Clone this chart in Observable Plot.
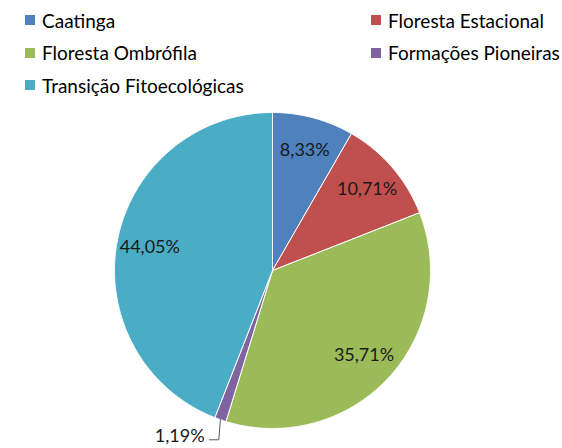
<!DOCTYPE html>
<html>
<head>
<meta charset="utf-8">
<script src="https://cdn.jsdelivr.net/npm/d3@7"></script>
<script src="https://cdn.jsdelivr.net/npm/@observablehq/plot@0.6"></script>
<style>
  html, body { margin: 0; padding: 0; background: #fff; }
  body { width: 562px; height: 448px; overflow: hidden; font-family: Lato, "Open Sans", sans-serif; }
  #legend { position: relative; width: 562px; height: 100px; }
  .item { position: absolute; display: flex; align-items: center; font-size: 19px; color: #000; white-space: nowrap; height: 24px; }
  .sw { width: 10px; height: 10px; margin-right: 7px; }
</style>
</head>
<body>
<div id="legend"></div>
<div id="chart"></div>
<script>
const categories = ["Caatinga", "Floresta Estacional", "Floresta Ombrófila", "Formações Pioneiras", "Transição Fitoecológicas"];
const values = [8.33, 10.71, 35.71, 1.19, 44.05];
const labels = ["8,33%", "10,71%", "35,71%", "1,19%", "44,05%"];
const colors = ["#4F81BD", "#C0504D", "#9BBB59", "#8064A2", "#4BACC6"];

// Legend (two columns, row-major like the original)
const legend = document.getElementById("legend");
categories.forEach((c, i) => {
  const col = i % 2, row = Math.floor(i / 2);
  const div = document.createElement("div");
  div.className = "item";
  div.style.left = (col ? 371 : 25) + "px";
  div.style.top = (8 + row * 32.5) + "px";
  div.innerHTML = `<span class="sw" style="background:${colors[i]}"></span><span>${c}</span>`;
  legend.appendChild(div);
});

// Pie geometry
const W = 562, H = 348, CX = 272, CY = 170, R = 158;
const arcs = d3.pie().sort(null).startAngle(0).endAngle(2 * Math.PI)(values);
const pt = (a, r) => ({x: r * Math.sin(a), y: r * Math.cos(a)});

const polys = [];
arcs.forEach((a, i) => {
  const n = Math.max(2, Math.ceil((a.endAngle - a.startAngle) / (Math.PI / 360)));
  polys.push({...pt(0, 0), k: categories[i], c: colors[i]});
  for (let j = 0; j <= n; j++) {
    const ang = a.startAngle + (a.endAngle - a.startAngle) * j / n;
    polys.push({...pt(ang, 1), k: categories[i], c: colors[i]});
  }
  polys.push({...pt(0, 0), k: categories[i], c: colors[i]});
});

const inside = [], outside = [], leaders = [];
arcs.forEach((a, i) => {
  const mid = (a.startAngle + a.endAngle) / 2;
  if (values[i] < 3) {
    const e = pt(mid, 1.0), b = pt(mid, 1.135);
    leaders.push({...e, k: i}, {x: e.x - 0.01, y: b.y, k: i}, {x: e.x - 0.07, y: b.y, k: i});
    outside.push({x: e.x - 0.1, y: b.y, t: labels[i]});
  } else {
    inside.push({...pt(mid, 0.79), t: labels[i]});
  }
});

const chart = Plot.plot({
  width: W, height: H,
  margin: 0,
  x: {domain: [-CX / R, (W - CX) / R], axis: null},
  y: {domain: [-(H - CY) / R, CY / R], axis: null},
  color: {type: "identity"},
  style: {fontFamily: "Lato, 'Open Sans', sans-serif", background: "#fff"},
  marks: [
    Plot.line(polys, {x: "x", y: "y", z: "k", fill: "c", stroke: "#fff", strokeWidth: 1, curve: "linear-closed"}),
    Plot.text(inside, {x: "x", y: "y", text: "t", fontSize: 18, fill: "#1a1a1a"}),
    Plot.line(leaders, {x: "x", y: "y", z: "k", stroke: "#595959", strokeWidth: 1}),
    Plot.text(outside, {x: "x", y: "y", text: "t", textAnchor: "end", dy: -4, fontSize: 18, fill: "#1a1a1a"})
  ]
});
document.getElementById("chart").appendChild(chart);
</script>
</body>
</html>
